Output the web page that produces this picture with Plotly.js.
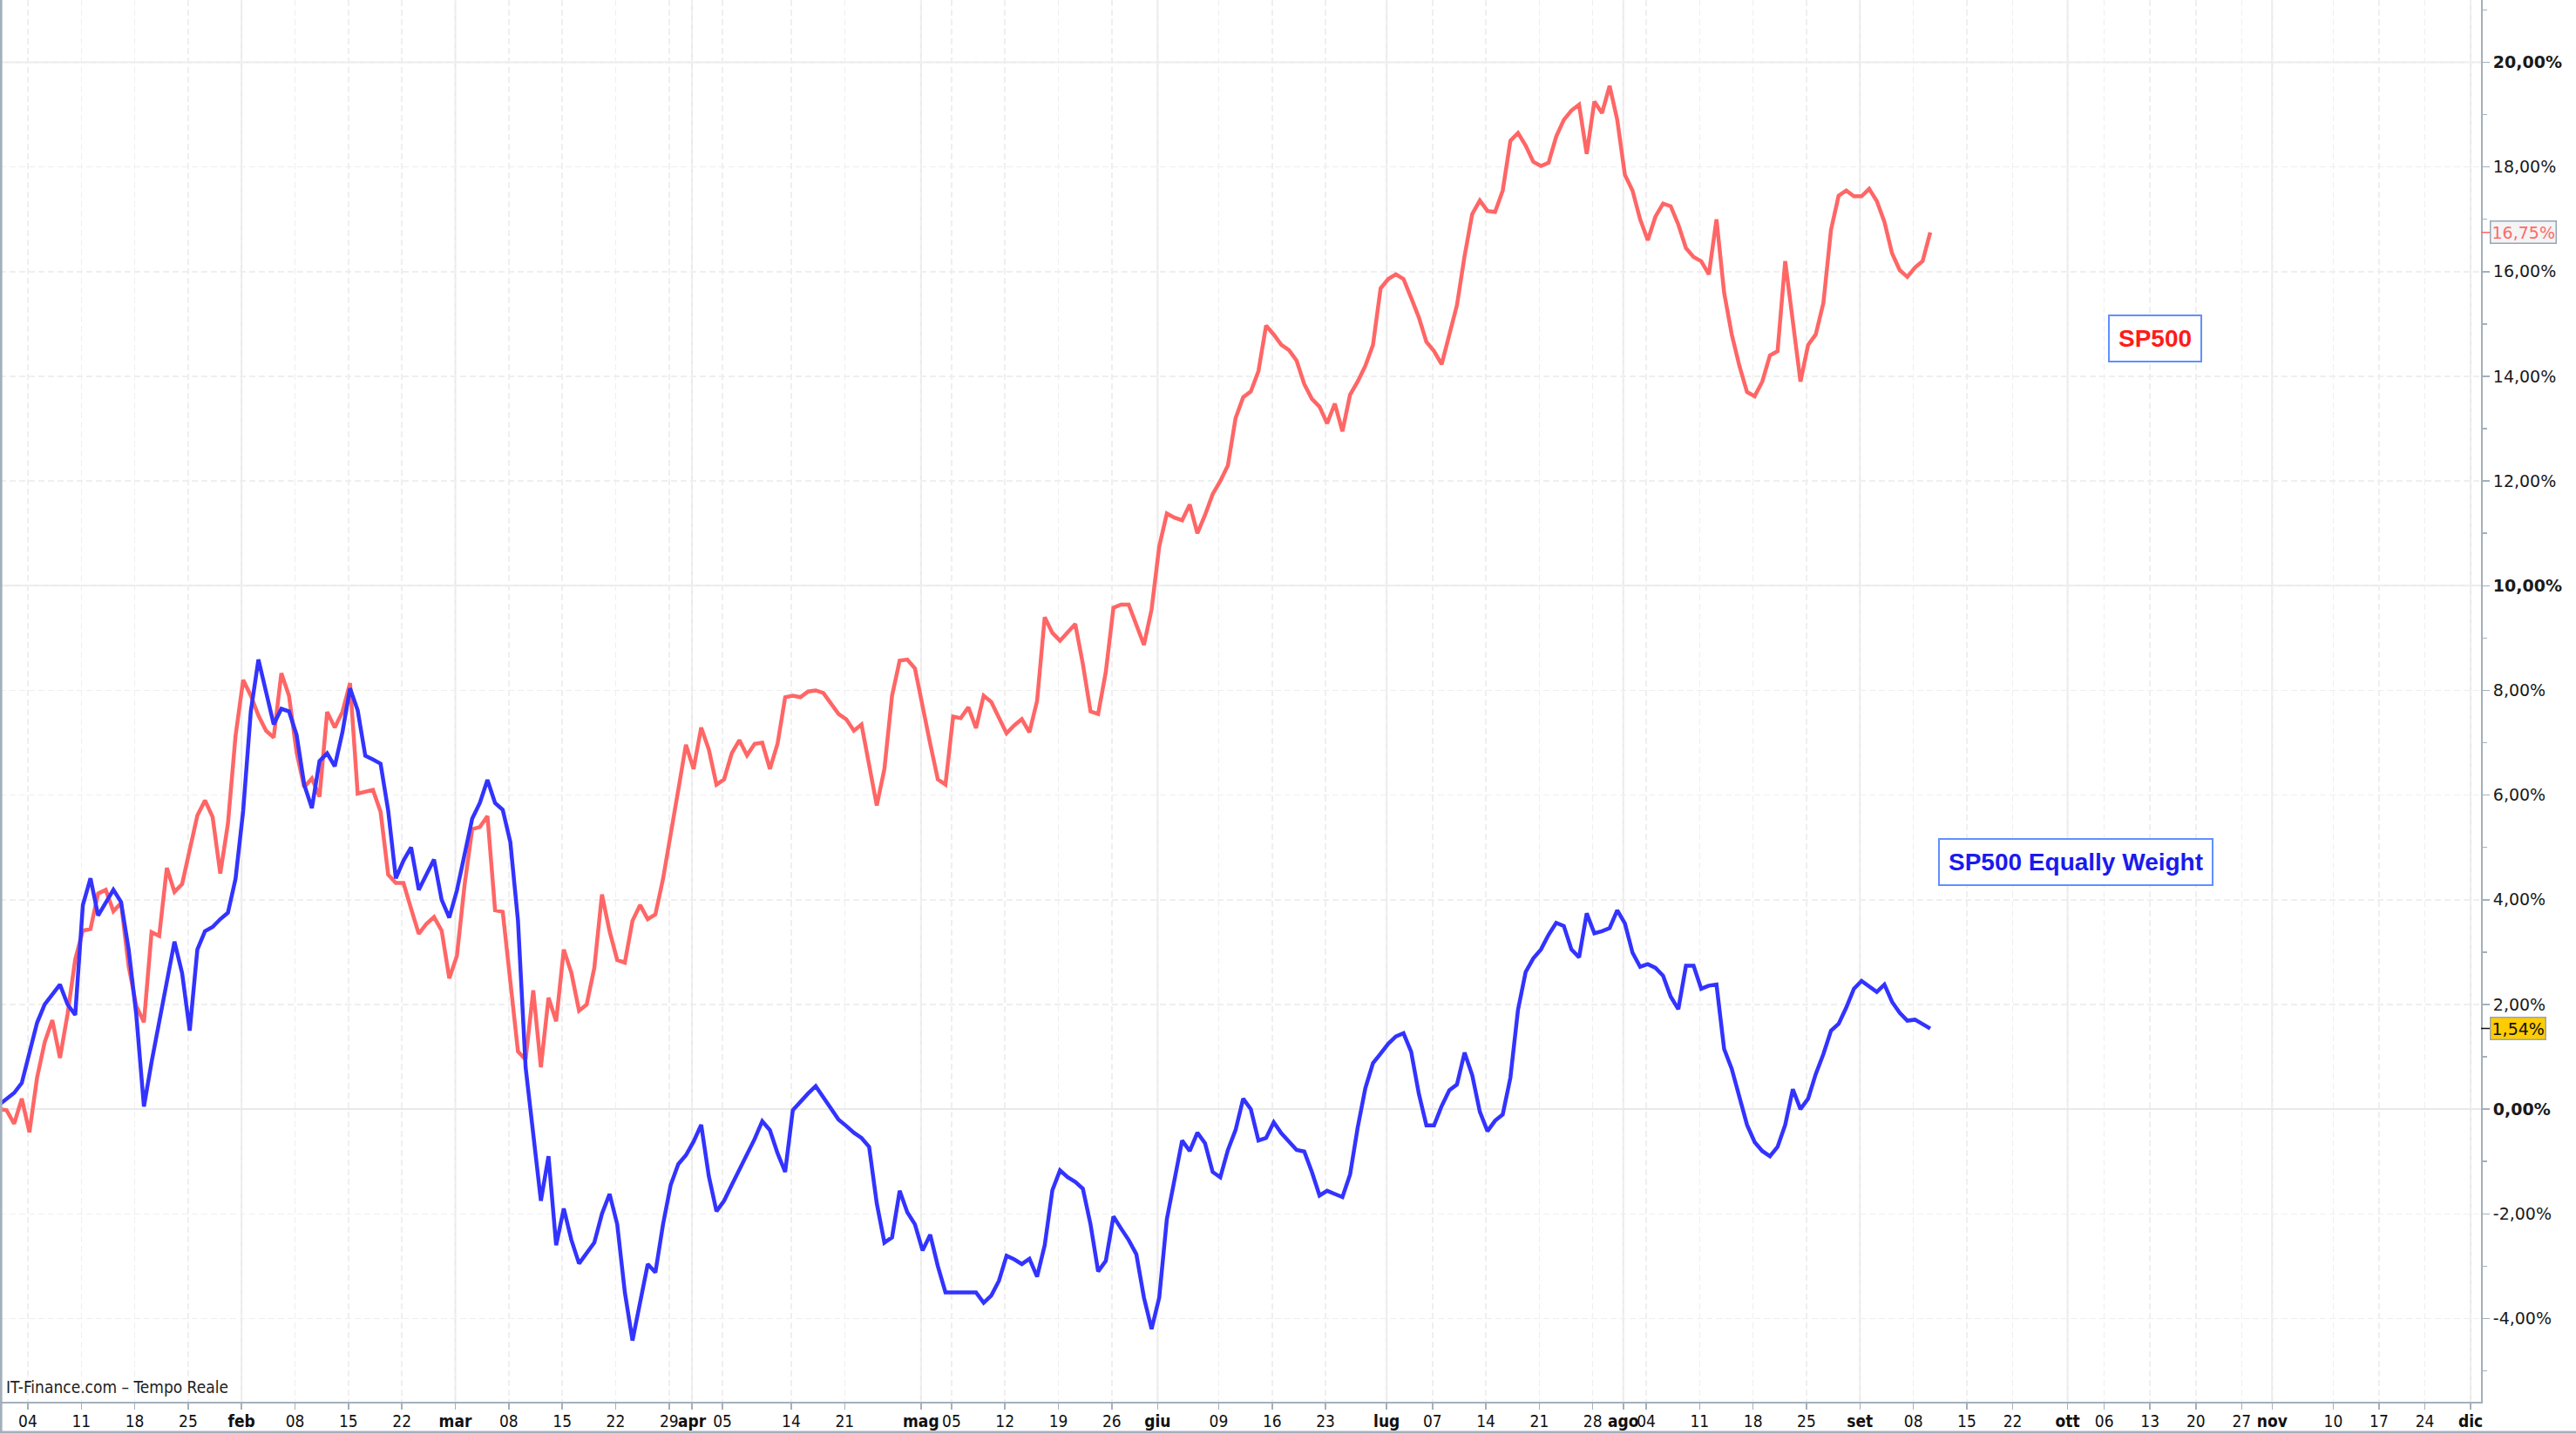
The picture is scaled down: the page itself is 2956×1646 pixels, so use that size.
<!DOCTYPE html>
<html>
<head>
<meta charset="utf-8">
<script src="https://cdn.plot.ly/plotly-3.0.1.min.js"></script>
<style>
  html, body { margin: 0; padding: 0; background: #ffffff; }
  #chart { width: 2956px; height: 1646px; }
</style>
</head>
<body>
<div id="chart"></div>
<script>
// ---------------- DATA (daily % change since start of 2023) ----------------
const YEAR = 2023;
const SERIES_NAMES = ['SP500', 'SP500 Equally Weight'];

const SP500_JAN = [0.00, -0.02, -0.28, 0.20, -0.44, 0.60, 1.28, 1.70, 0.98, 1.82, 2.86, 3.41, 3.44, 4.12, 4.19, 3.78, 3.94, 2.73, 1.97, 1.66, 3.38, 3.31, 4.61, 4.15, 4.30, 4.92, 5.61, 5.90, 5.58, 4.50, 5.45];
const SP500_FEB = [7.13, 8.20, 7.90, 7.52, 7.23, 7.10, 8.33, 7.90, 6.81, 6.15, 6.32, 5.97, 7.59, 7.29, 7.59, 8.14, 6.03, 6.06, 6.10, 5.68, 4.48, 4.32, 4.32, 3.83, 3.35, 3.54, 3.67, 3.41];
const SP500_MAR = [2.50, 2.93, 4.28, 5.35, 5.39, 5.60, 3.80, 3.77, 2.50, 1.10, 0.95, 2.27, 0.80, 2.13, 1.68, 3.05, 2.60, 1.88, 2.00, 2.70, 4.10, 3.40, 2.85, 2.80, 3.60, 3.90, 3.63, 3.72, 4.40, 5.20, 6.10];
const SP500_APR = [6.96, 6.50, 7.29, 6.87, 6.20, 6.30, 6.80, 7.05, 6.76, 6.98, 7.00, 6.50, 6.98, 7.87, 7.90, 7.87, 7.98, 8.00, 7.95, 7.75, 7.55, 7.45, 7.23, 7.35, 6.60, 5.80, 6.50, 7.90, 8.57, 8.59];
const SP500_MAY = [8.42, 7.65, 6.98, 6.30, 6.20, 7.50, 7.47, 7.68, 7.28, 7.90, 7.78, 7.48, 7.18, 7.33, 7.45, 7.20, 7.80, 9.40, 9.10, 8.95, 9.10, 9.27, 8.50, 7.60, 7.55, 8.35, 9.58, 9.64, 9.64, 9.25, 8.87];
const SP500_JUN = [9.55, 10.75, 11.38, 11.30, 11.25, 11.55, 11.00, 11.35, 11.75, 12.00, 12.30, 13.20, 13.60, 13.71, 14.10, 14.97, 14.80, 14.60, 14.50, 14.30, 13.85, 13.57, 13.42, 13.10, 13.48, 12.95, 13.65, 13.90, 14.20, 14.60];
const SP500_JUL = [15.68, 15.86, 15.95, 15.86, 15.50, 15.13, 14.66, 14.48, 14.23, 14.78, 15.36, 16.30, 17.10, 17.36, 17.16, 17.14, 17.55, 18.50, 18.65, 18.41, 18.10, 18.02, 18.08, 18.58, 18.90, 19.08, 19.19, 18.25, 19.25, 19.03, 19.55];
const SP500_AUG = [18.90, 17.85, 17.55, 17.00, 16.60, 17.05, 17.30, 17.25, 16.90, 16.45, 16.28, 16.20, 15.95, 17.00, 15.60, 14.80, 14.20, 13.70, 13.62, 13.90, 14.40, 14.48, 16.20, 15.00, 13.90, 14.60, 14.80, 15.40, 16.80, 17.45, 17.55];
const SP500_SEP = [17.44, 17.44, 17.58, 17.35, 16.95, 16.35, 16.03, 15.90, 16.08, 16.20, 16.75];

const EW_JAN = [0.08, 0.20, 0.31, 0.50, 1.10, 1.65, 2.00, 2.20, 2.38, 2.00, 1.80, 3.90, 4.41, 3.70, 3.96, 4.19, 3.96, 3.05, 1.80, 0.05, 0.90, 1.70, 2.50, 3.20, 2.60, 1.50, 3.05, 3.40, 3.48, 3.63, 3.75];
const EW_FEB = [4.40, 5.70, 7.60, 8.59, 7.97, 7.35, 7.65, 7.60, 7.15, 6.20, 5.75, 6.65, 6.80, 6.55, 7.20, 8.04, 7.62, 6.75, 6.68, 6.60, 5.70, 4.41, 4.75, 5.00, 4.19, 4.50, 4.77, 4.00];
const EW_MAR = [3.66, 4.18, 4.90, 5.55, 5.85, 6.29, 5.85, 5.72, 5.10, 3.60, 0.80, -0.50, -1.75, -0.90, -2.60, -1.90, -2.50, -2.95, -2.75, -2.55, -2.00, -1.62, -2.20, -3.50, -4.42, -3.65, -2.96, -3.12, -2.20, -1.45, -1.05];
const EW_APR = [-0.88, -0.62, -0.30, -1.28, -1.95, -1.75, -1.45, -1.15, -0.88, -0.57, -0.23, -0.40, -0.84, -1.20, -0.02, 0.15, 0.30, 0.44, 0.22, 0.02, -0.20, -0.32, -0.45, -0.55, -0.72, -1.80, -2.55, -2.45, -1.56, -1.97];
const EW_MAY = [-2.20, -2.70, -2.40, -3.00, -3.50, -3.50, -3.50, -3.50, -3.50, -3.70, -3.56, -3.28, -2.80, -2.87, -2.96, -2.86, -3.20, -2.60, -1.55, -1.17, -1.30, -1.39, -1.52, -2.20, -3.10, -2.90, -2.05, -2.28, -2.50, -2.77, -3.60];
const EW_JUN = [-4.20, -3.60, -2.10, -1.34, -0.60, -0.80, -0.45, -0.65, -1.20, -1.30, -0.78, -0.40, 0.20, 0.00, -0.60, -0.55, -0.25, -0.46, -0.63, -0.78, -0.81, -1.20, -1.65, -1.56, -1.62, -1.68, -1.25, -0.35, 0.40, 0.88];
const EW_JUL = [1.06, 1.25, 1.39, 1.45, 1.10, 0.30, -0.31, -0.31, 0.06, 0.36, 0.47, 1.08, 0.65, -0.05, -0.42, -0.22, -0.10, 0.60, 1.90, 2.62, 2.88, 3.05, 3.33, 3.56, 3.50, 3.05, 2.90, 3.74, 3.36, 3.40, 3.46];
const EW_AUG = [3.80, 3.55, 2.99, 2.72, 2.77, 2.70, 2.55, 2.15, 1.91, 2.74, 2.74, 2.30, 2.36, 2.38, 1.15, 0.77, 0.25, -0.30, -0.63, -0.80, -0.90, -0.72, -0.30, 0.38, 0.00, 0.20, 0.67, 1.05, 1.50, 1.63, 1.94];
const EW_SEP = [2.30, 2.45, 2.35, 2.24, 2.38, 2.05, 1.84, 1.69, 1.71, 1.62, 1.54];

// x-axis tick labels (Italian) and their dates
const TICK_LABELS = ['04','11','18','25','feb','08','15','22','mar','08','15','22','29','apr','05','14','21','mag','05','12','19','26','giu','09','16','23','lug','07','14','21','28','ago','04','11','18','25','set','08','15','22','ott','06','13','20','27','nov','10','17','24','dic'];
const TICK_DATES  = ['2023-01-04','2023-01-11','2023-01-18','2023-01-25','2023-02-01','2023-02-08','2023-02-15','2023-02-22','2023-03-01','2023-03-08','2023-03-15','2023-03-22','2023-03-29','2023-04-01','2023-04-05','2023-04-14','2023-04-21','2023-05-01','2023-05-05','2023-05-12','2023-05-19','2023-05-26','2023-06-01','2023-06-09','2023-06-16','2023-06-23','2023-07-01','2023-07-07','2023-07-14','2023-07-21','2023-07-28','2023-08-01','2023-08-04','2023-08-11','2023-08-18','2023-08-25','2023-09-01','2023-09-08','2023-09-15','2023-09-22','2023-10-01','2023-10-06','2023-10-13','2023-10-20','2023-10-27','2023-11-01','2023-11-10','2023-11-17','2023-11-24','2023-12-01'];

const Y_TICKS = [-4, -2, 0, 2, 4, 6, 8, 10, 12, 14, 16, 18, 20];
const Y_BOLD = [0, 10, 20];
const Y_MINOR = [-5, -3, -1, 1, 3, 5, 7, 9, 11, 13, 15, 17, 19, 21];

// ---------------- BUILD ----------------
const pad2 = n => (n < 10 ? '0' : '') + n;
function monthDates(month, count) {
  const out = [];
  for (let d = 1; d <= count; d++) out.push(YEAR + '-' + pad2(month) + '-' + pad2(d));
  return out;
}
const SP_MONTHS = [SP500_JAN, SP500_FEB, SP500_MAR, SP500_APR, SP500_MAY, SP500_JUN, SP500_JUL, SP500_AUG, SP500_SEP];
const EW_MONTHS = [EW_JAN, EW_FEB, EW_MAR, EW_APR, EW_MAY, EW_JUN, EW_JUL, EW_AUG, EW_SEP];
let DATES = [], SP500 = [], EW = [];
SP_MONTHS.forEach((arr, i) => { DATES = DATES.concat(monthDates(i + 1, arr.length)); SP500 = SP500.concat(arr); });
EW_MONTHS.forEach(arr => { EW = EW.concat(arr); });

// Projection area after the data: Sundays are not drawn (axis config)
const BREAK_FROM = Date.UTC(2023, 8, 17);
const SUNDAYS = [];
for (let t = BREAK_FROM; t <= Date.UTC(2024, 0, 7); t += 7 * 86400000) {
  SUNDAYS.push(new Date(t).toISOString().slice(0, 10));
}
function fmt(t) { return new Date(t).toISOString().replace('T', ' ').slice(0, 16); }
function tickPos(ds) {
  let t = Date.parse(ds + 'T00:00:00Z') + 19 * 3600000;
  const day = new Date(t);
  if (t >= BREAK_FROM && day.getUTCDay() === 0) {
    t = Date.parse(ds + 'T00:00:00Z') + 86400000;
  }
  return fmt(t);
}
const TICK_VALS = TICK_DATES.map(tickPos);
const TICK_TEXT = TICK_LABELS.map(l => isNaN(+l) ? '<b>' + l + '</b>' : l);
const MONTH_VALS = TICK_VALS.filter((v, i) => isNaN(+TICK_LABELS[i]));

const pct = v => v.toFixed(2).replace('.', ',') + '%';
const Y_TEXT = Y_TICKS.map(v => Y_BOLD.includes(v) ? '<b>' + pct(v) + '</b>' : pct(v));

const AXIS_COLOR = '#a3b0bc';
const GRID_DASH = '#efefef';
const GRID_SOLID = '#e9e9e9';
const RED = '#ff6666', BLUE = '#3333ff';

const W = 2956, H = 1646;
const M = { l: 0, r: 109, t: 0, b: 37 };
const plotW = W - M.l - M.r, plotH = H - M.t - M.b;
const bottomLineY = -(35 / plotH);

const shapes = [];
MONTH_VALS.forEach(v => shapes.push({
  type: 'line', xref: 'x', yref: 'paper', x0: v, x1: v, y0: 0, y1: 1,
  line: { color: GRID_SOLID, width: 2 }, layer: 'below'
}));
[10, 20].forEach(v => shapes.push({
  type: 'line', xref: 'paper', yref: 'y', x0: 0, x1: 1, y0: v, y1: v,
  line: { color: GRID_SOLID, width: 2 }, layer: 'below'
}));
shapes.push({ type: 'line', xref: 'paper', yref: 'paper', x0: 0.0004, x1: 0.0004, y0: bottomLineY, y1: 1,
  line: { color: AXIS_COLOR, width: 3 } });
shapes.push({ type: 'line', xref: 'paper', yref: 'paper', x0: 0, x1: W / plotW, y0: bottomLineY, y1: bottomLineY,
  line: { color: AXIS_COLOR, width: 3 } });

const lastSP = SP500[SP500.length - 1], lastEW = EW[EW.length - 1];

const annotations = [
  { xref: 'paper', yref: 'paper', x: 0.8688, y: 0.7585, xanchor: 'center', yanchor: 'middle',
    text: '<b>' + SERIES_NAMES[0] + '</b>', showarrow: false,
    font: { family: 'Liberation Sans, Arial, sans-serif', size: 28, color: '#ff1a1a' },
    bordercolor: '#6090ff', borderwidth: 2, borderpad: 10, bgcolor: '#ffffff' },
  { xref: 'paper', yref: 'paper', x: 0.8366, y: 0.3853, xanchor: 'center', yanchor: 'middle',
    text: '<b>' + SERIES_NAMES[1] + '</b>', showarrow: false,
    font: { family: 'Liberation Sans, Arial, sans-serif', size: 28, color: '#1a1aee' },
    bordercolor: '#6090ff', borderwidth: 2, borderpad: 10, bgcolor: '#ffffff' },
  { xref: 'paper', yref: 'y', x: 1, y: lastSP, text: pct(lastSP), showarrow: true, arrowhead: 0,
    arrowwidth: 1.5, arrowcolor: RED, ax: 10, ay: 0, standoff: 0, xanchor: 'left',
    font: { family: 'DejaVu Sans, sans-serif', size: 19, color: '#ff6a6a' },
    bgcolor: '#f4f4f4', bordercolor: '#97a6b3', borderwidth: 1.5, borderpad: 1 },
  { xref: 'paper', yref: 'y', x: 1, y: lastEW, text: pct(lastEW), showarrow: true, arrowhead: 0,
    arrowwidth: 1.5, arrowcolor: '#111111', ax: 10, ay: 0, standoff: 0, xanchor: 'left',
    font: { family: 'DejaVu Sans, sans-serif', size: 19, color: '#111111' },
    bgcolor: '#ffcc00', bordercolor: '#97a6b3', borderwidth: 1.5, borderpad: 1 },
  { xref: 'paper', yref: 'paper', x: 0, y: 0, xanchor: 'left', yanchor: 'bottom', xshift: 5, yshift: 4,
    text: 'IT-Finance.com – Tempo Reale', showarrow: false,
    font: { family: 'DejaVu Sans Condensed, Liberation Sans Narrow, Roboto Condensed, DejaVu Sans, sans-serif', size: 19, color: '#222222' } }
];

const traces = [
  { x: DATES, y: SP500, type: 'scatter', mode: 'lines', name: SERIES_NAMES[0],
    line: { color: RED, width: 4.5 }, hoverinfo: 'skip' },
  { x: DATES, y: EW, type: 'scatter', mode: 'lines', name: SERIES_NAMES[1],
    line: { color: BLUE, width: 4.5 }, hoverinfo: 'skip' }
];

const layout = {
  width: W, height: H,
  margin: M,
  paper_bgcolor: '#ffffff', plot_bgcolor: '#ffffff',
  showlegend: false,
  xaxis: {
    type: 'date',
    range: ['2023-01-01 03:30', '2023-12-04 03:36'],
    rangebreaks: [{ values: SUNDAYS, dvalue: 86400000 }],
    tickmode: 'array', tickvals: TICK_VALS, ticktext: TICK_TEXT,
    tickangle: 0,
    ticks: 'outside', ticklen: 7, tickwidth: 1.5, tickcolor: AXIS_COLOR,
    ticklabelstandoff: -3,
    showline: true, linecolor: AXIS_COLOR, linewidth: 2,
    showgrid: true, gridcolor: GRID_DASH, gridwidth: 1.5, griddash: '7px,4px',
    zeroline: false, fixedrange: true, automargin: false,
    tickfont: { family: 'DejaVu Sans Condensed, Liberation Sans Narrow, Roboto Condensed, DejaVu Sans, sans-serif', size: 19, color: '#111111' }
  },
  yaxis: {
    side: 'right',
    range: [-5.59, 21.19],
    tickmode: 'array', tickvals: Y_TICKS, ticktext: Y_TEXT,
    ticks: 'outside', ticklen: 8, tickwidth: 1.5, tickcolor: AXIS_COLOR,
    minor: { tickmode: 'array', tickvals: Y_MINOR, ticks: 'outside', ticklen: 5, tickwidth: 1.5, tickcolor: AXIS_COLOR, showgrid: false },
    showline: true, linecolor: AXIS_COLOR, linewidth: 2,
    showgrid: true, gridcolor: GRID_DASH, gridwidth: 1.5, griddash: '7px,4px',
    zeroline: true, zerolinecolor: GRID_SOLID, zerolinewidth: 2,
    fixedrange: true, automargin: false,
    tickfont: { family: 'DejaVu Sans, sans-serif', size: 19, color: '#1a1a1a' }
  },
  shapes: shapes,
  annotations: annotations
};

Plotly.newPlot('chart', traces, layout, { staticPlot: true, displayModeBar: false });
</script>
</body>
</html>
